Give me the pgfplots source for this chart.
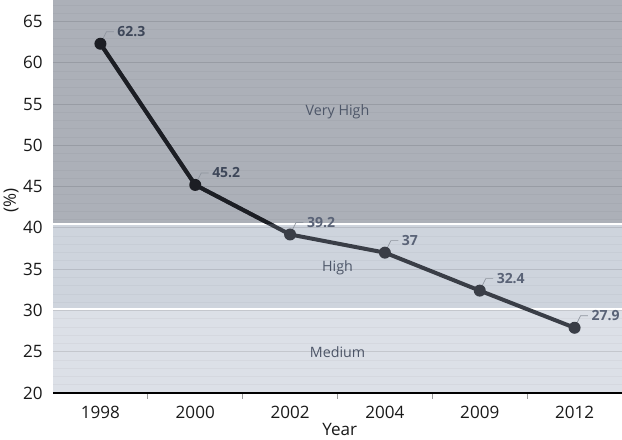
\documentclass[border=0pt]{standalone}
\usepackage{fontspec}
\setmainfont{Open Sans}
\usepackage{pgfplots}
\pgfplotsset{compat=1.18}
\definecolor{bandVH}{HTML}{ACB0B8}
\definecolor{bandH}{HTML}{CED4DD}
\definecolor{bandM}{HTML}{DCE0E7}
\definecolor{lineVH}{HTML}{1C1E24}
\definecolor{lineLow}{HTML}{3A3E47}
\definecolor{labVH}{HTML}{3E4759}
\definecolor{labLow}{HTML}{5A6377}
\definecolor{leadcol}{HTML}{8E949E}
\definecolor{bandtext}{HTML}{4E5769}

% circle marker with a small leader line towards its value label
\pgfdeclareplotmark{lead}{%
  \pgfpathmoveto{\pgfqpoint{1.8pt}{3.6pt}}%
  \pgfpathlineto{\pgfqpoint{4.5pt}{9pt}}%
  \pgfpathlineto{\pgfqpoint{10pt}{9pt}}%
  \pgfsetlinewidth{0.5pt}\pgfsetstrokecolor{leadcol}%
  \pgfusepathqstroke
  \pgfpathcircle{\pgfpointorigin}{\pgfplotmarksize}%
  \pgfusepathqfill
}

\begin{document}
\begin{tikzpicture}
\begin{axis}[
    width=426.75pt, height=294.75pt, scale only axis,
    xmin=-0.5, xmax=5.5, ymin=20, ymax=67.6,
    xtick={0,...,5},
    xticklabels={1998,2000,2002,2004,2009,2012},
    minor xtick={0.5,1.5,2.5,3.5,4.5},
    ytick={20,25,...,65},
    minor ytick={21,...,67},
    axis on top,
    axis x line*=bottom, axis y line*=left,
    y axis line style={draw=none},
    x axis line style={black, line width=1pt, -},
    tick align=outside,
    major tick length=0pt,
    minor tick length=4.5pt,
    minor x tick style={color=gray!80, line width=0.8pt},
    minor y tick style={draw=none},
    ymajorgrids, yminorgrids,
    major grid style={black, opacity=0.08, line width=0.75pt},
    minor grid style={black, opacity=0.03, line width=0.6pt},
    /pgf/number format/assume math mode=true,
    tick label style={font=\fontsize{12.8}{15}\selectfont, color=black!90},
    xticklabel style={anchor=center, yshift=-14.25pt},
    yticklabel style={anchor=east, inner sep=0pt, xshift=-7.5pt},
    xlabel={Year}, ylabel={(\%)},
    label style={font=\fontsize{12.8}{15}\selectfont, color=black!90},
    xlabel style={at={(rel axis cs:0.504,0)}, anchor=center, yshift=-27.6pt},
    ylabel style={at={(rel axis cs:0,0.49)}, anchor=center, yshift=31.5pt},
    clip=false,
]
\fill[bandVH] (axis cs:-0.5,40.5) rectangle (axis cs:5.5,67.6);
\fill[bandH] (axis cs:-0.5,30.2) rectangle (axis cs:5.5,40.5);
\fill[bandM] (axis cs:-0.5,20) rectangle (axis cs:5.5,30.2);
\draw[white, line width=1.5pt] (axis cs:-0.5,40.5) -- (axis cs:5.5,40.5);
\draw[white, line width=1.5pt] (axis cs:-0.5,30.2) -- (axis cs:5.5,30.2);
\node[color=bandtext, font=\fontsize{10.7}{13}\selectfont] at (axis cs:2.5,54.05) {Very High};
\node[color=bandtext, font=\fontsize{10.7}{13}\selectfont] at (axis cs:2.5,35.2) {High};
\node[color=bandtext, font=\fontsize{10.7}{13}\selectfont] at (axis cs:2.5,24.9) {Medium};

\addplot[lineLow, line width=3pt, no markers] coordinates {
    (0,62.3) (1,45.2) (2,39.2) (3,37) (4,32.4) (5,27.9)};
\begin{scope}
\clip (axis cs:-0.5,40.5) rectangle (axis cs:5.5,67.6);
\addplot[lineVH, line width=3pt, no markers] coordinates {
    (0,62.3) (1,45.2) (2,39.2) (3,37) (4,32.4) (5,27.9)};
\end{scope}

\addplot[only marks, mark=lead, mark size=4.5pt, mark options={fill=lineVH},
    nodes near coords,
    nodes near coords style={anchor=west, inner sep=0pt, xshift=12.5pt, yshift=9pt,
        color=labVH, font=\bfseries\fontsize{10.5}{12}\selectfont}]
    coordinates {(0,62.3) (1,45.2)};
\addplot[only marks, mark=lead, mark size=4.5pt, mark options={fill=lineLow},
    nodes near coords,
    nodes near coords style={anchor=west, inner sep=0pt, xshift=12.5pt, yshift=9pt,
        color=labLow, font=\bfseries\fontsize{10.5}{12}\selectfont}]
    coordinates {(2,39.2) (3,37) (4,32.4) (5,27.9)};

\coordinate (bl) at (rel axis cs:0,0);
\coordinate (tr) at (rel axis cs:1,1);
\end{axis}
\pgfresetboundingbox
\path ([xshift=-39.75pt,yshift=-35.25pt]bl) rectangle (tr);
\end{tikzpicture}
\end{document}
